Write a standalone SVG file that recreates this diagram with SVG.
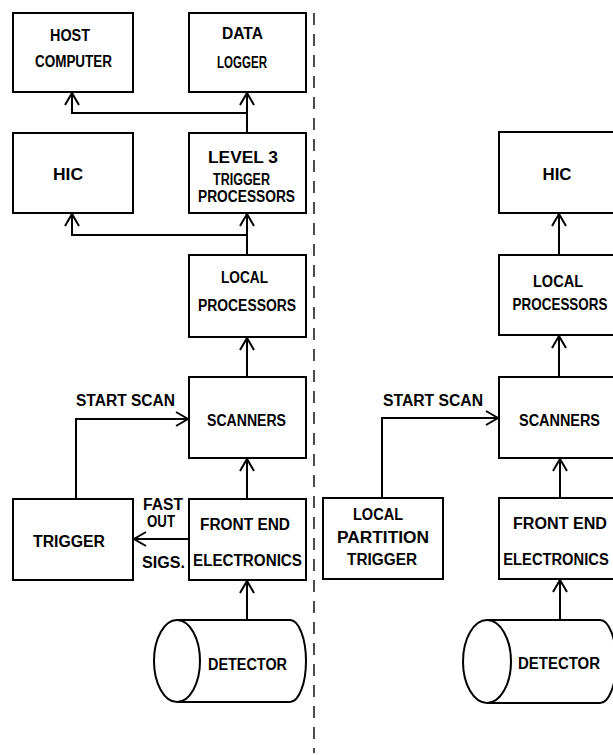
<svg xmlns="http://www.w3.org/2000/svg" width="613" height="755" viewBox="0 0 613 755">
<style>
.box{fill:#fff;stroke:#000;stroke-width:2}
.cyl{fill:#fff;stroke:#000;stroke-width:2}
.ln{fill:none;stroke:#000;stroke-width:2}
.div{fill:none;stroke:#000;stroke-width:1.4;stroke-dasharray:12 9}
text{font-family:"Liberation Sans",Arial,sans-serif;font-weight:bold;font-size:16px;fill:#000;text-anchor:middle}
</style>
<defs>
<marker id="ar" viewBox="-14 -9 16 18" markerWidth="16" markerHeight="18" refX="0" refY="0" orient="auto" markerUnits="userSpaceOnUse">
<path d="M-12,-7 L0,0 L-12,7" fill="none" stroke="#000" stroke-width="2"/>
</marker>
</defs>
<rect width="613" height="755" fill="#fff"/>
<path class="div" d="M314,13 V753"/>
<g id="connectors">
<path class="ln" d="M247,133 V93" marker-end="url(#ar)"/>
<path class="ln" d="M247,113 H72 V93" marker-end="url(#ar)"/>
<path class="ln" d="M247,255 V214" marker-end="url(#ar)"/>
<path class="ln" d="M247,235 H72 V214" marker-end="url(#ar)"/>
<path class="ln" d="M247,377 V338" marker-end="url(#ar)"/>
<path class="ln" d="M247,499 V459" marker-end="url(#ar)"/>
<path class="ln" d="M76,499 V419 H188" marker-end="url(#ar)"/>
<path class="ln" d="M189,539 H134" marker-end="url(#ar)"/>
<path class="ln" d="M247,620 V581" marker-end="url(#ar)"/>
<path class="ln" d="M559,255 V214" marker-end="url(#ar)"/>
<path class="ln" d="M559,377 V336" marker-end="url(#ar)"/>
<path class="ln" d="M560,498 V459" marker-end="url(#ar)"/>
<path class="ln" d="M382,498 V418 H498" marker-end="url(#ar)"/>
<path class="ln" d="M560,620 V580" marker-end="url(#ar)"/>
</g>
<g id="host">
<rect class="box" x="13" y="13" width="120" height="79"/>
<text x="70" y="41" textLength="40" lengthAdjust="spacingAndGlyphs">HOST</text>
<text x="73.5" y="67" textLength="77" lengthAdjust="spacingAndGlyphs">COMPUTER</text>
</g>
<g id="datalogger">
<rect class="box" x="189" y="13" width="117" height="79"/>
<text x="242.5" y="39" textLength="41" lengthAdjust="spacingAndGlyphs">DATA</text>
<text x="242" y="68" textLength="50" lengthAdjust="spacingAndGlyphs">LOGGER</text>
</g>
<g id="hic">
<rect class="box" x="13" y="133" width="120" height="80"/>
<text x="68" y="180" textLength="30" lengthAdjust="spacingAndGlyphs">HIC</text>
</g>
<g id="level3">
<rect class="box" x="189" y="133" width="117" height="80"/>
<text x="243" y="163" textLength="70" lengthAdjust="spacingAndGlyphs">LEVEL 3</text>
<text x="241.5" y="185" textLength="57" lengthAdjust="spacingAndGlyphs">TRIGGER</text>
<text x="246.5" y="202" textLength="97" lengthAdjust="spacingAndGlyphs">PROCESSORS</text>
</g>
<g id="localproc">
<rect class="box" x="189" y="255" width="117" height="82"/>
<text x="244.5" y="283" textLength="47" lengthAdjust="spacingAndGlyphs">LOCAL</text>
<text x="247" y="311" textLength="98" lengthAdjust="spacingAndGlyphs">PROCESSORS</text>
</g>
<g id="scanners">
<rect class="box" x="189" y="377" width="117" height="81"/>
<text x="246.5" y="426" textLength="79" lengthAdjust="spacingAndGlyphs">SCANNERS</text>
</g>
<g id="startscan-label">
<text x="125.5" y="406" textLength="99" lengthAdjust="spacingAndGlyphs">START SCAN</text>
</g>
<g id="trigger">
<rect class="box" x="13" y="499" width="120" height="81"/>
<text x="69" y="547" textLength="72" lengthAdjust="spacingAndGlyphs">TRIGGER</text>
</g>
<g id="fastout-label">
<text x="163" y="510" textLength="40" lengthAdjust="spacingAndGlyphs">FAST</text>
<text x="161" y="527" textLength="28" lengthAdjust="spacingAndGlyphs">OUT</text>
<text x="163.5" y="568" textLength="43" lengthAdjust="spacingAndGlyphs">SIGS.</text>
</g>
<g id="frontend">
<rect class="box" x="189" y="499" width="117" height="81"/>
<text x="245" y="530" textLength="90" lengthAdjust="spacingAndGlyphs">FRONT END</text>
<text x="247.5" y="566" textLength="109" lengthAdjust="spacingAndGlyphs">ELECTRONICS</text>
</g>
<g id="detector">
<path class="cyl" d="M177,620 H290 A16,41 0 0 1 290,702 H177"/>
<ellipse class="cyl" cx="177" cy="661" rx="23" ry="41"/>
<text x="247.5" y="670" textLength="79" lengthAdjust="spacingAndGlyphs">DETECTOR</text>
</g>
<g id="hic2">
<rect class="box" x="499" y="132" width="130" height="81"/>
<text x="557" y="180" textLength="29" lengthAdjust="spacingAndGlyphs">HIC</text>
</g>
<g id="localproc2">
<rect class="box" x="499" y="255" width="130" height="80"/>
<text x="558" y="287" textLength="50" lengthAdjust="spacingAndGlyphs">LOCAL</text>
<text transform="translate(560,310) scale(0.84,1)" x="0" y="0">PROCESSORS</text>
</g>
<g id="scanners2">
<rect class="box" x="499" y="377" width="130" height="81"/>
<text x="559.5" y="426" textLength="81" lengthAdjust="spacingAndGlyphs">SCANNERS</text>
</g>
<g id="startscan2-label">
<text x="433" y="406" textLength="100" lengthAdjust="spacingAndGlyphs">START SCAN</text>
</g>
<g id="lpt">
<rect class="box" x="323" y="498" width="120" height="81"/>
<text x="378" y="520" textLength="50" lengthAdjust="spacingAndGlyphs">LOCAL</text>
<text x="383" y="543" textLength="92" lengthAdjust="spacingAndGlyphs">PARTITION</text>
<text x="382" y="565" textLength="70" lengthAdjust="spacingAndGlyphs">TRIGGER</text>
</g>
<g id="frontend2">
<rect class="box" x="499" y="498" width="130" height="81"/>
<text x="560" y="529" textLength="94" lengthAdjust="spacingAndGlyphs">FRONT END</text>
<text transform="translate(556,565) scale(0.92,1)" x="0" y="0">ELECTRONICS</text>
</g>
<g id="detector2">
<path class="cyl" d="M487,620 H600 A16,41 0 0 1 600,703 H487"/>
<ellipse class="cyl" cx="487" cy="661.5" rx="24" ry="41.5"/>
<text x="559" y="669" textLength="82" lengthAdjust="spacingAndGlyphs">DETECTOR</text>
</g>
</svg>
